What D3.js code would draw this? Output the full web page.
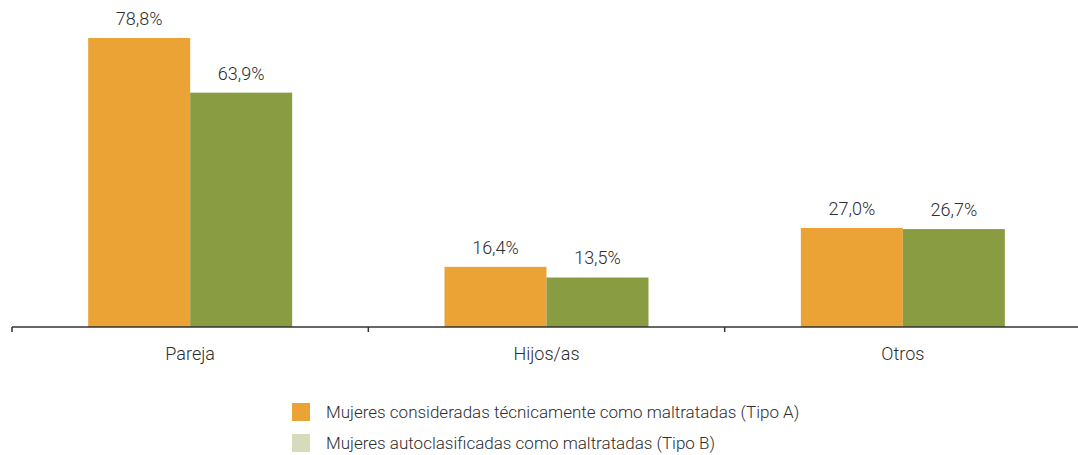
<!DOCTYPE html>
<html>
<head>
<meta charset="utf-8">
<script src="https://cdn.jsdelivr.net/npm/d3@7"></script>
<style>
  html, body { margin: 0; padding: 0; background: #fff; }
  svg { display: block; }
  text { font-family: Roboto, "Liberation Sans", sans-serif; font-weight: 300; fill: #2e2e2e; }
</style>
</head>
<body>
<svg id="chart" width="1078" height="455"></svg>
<script>
const categories = ["Pareja", "Hijos/as", "Otros"];
const seriesNames = [
  "Mujeres consideradas técnicamente como maltratadas (Tipo A)",
  "Mujeres autoclasificadas como maltratadas (Tipo B)"
];
const tipoA = [78.8, 16.4, 27.0];
const tipoB = [63.9, 13.5, 26.7];
const barColors = ["#eca336", "#8a9c41"];
const legendColors = ["#eca336", "#d5dbbb"];

const svg = d3.select("#chart");
const baseY = 327;
const x = d3.scaleBand().domain(categories).range([12, 1081]).paddingInner(0).paddingOuter(0);
const y = d3.scaleLinear().domain([0, 78.8]).range([baseY, 38]);
const barW = 102;
const fmt = v => v.toFixed(1).replace(".", ",") + "%";

const series = [tipoA, tipoB];
series.forEach((vals, si) => {
  const g = svg.append("g");
  g.selectAll("rect").data(categories).join("rect")
    .attr("x", c => x(c) + x.bandwidth() / 2 - barW + si * barW)
    .attr("y", (c, i) => y(vals[i]))
    .attr("width", barW)
    .attr("height", (c, i) => baseY - y(vals[i]))
    .attr("fill", barColors[si]);
  g.selectAll("text").data(categories).join("text")
    .attr("x", c => x(c) + x.bandwidth() / 2 - barW / 2 + si * barW)
    .attr("y", (c, i) => y(vals[i]) - 13)
    .attr("text-anchor", "middle")
    .attr("font-size", 18)
    .text((c, i) => fmt(vals[i]));
});

// axis
const axisG = svg.append("g").attr("transform", `translate(0,${baseY})`);
axisG.append("line").attr("x1", 12).attr("x2", 1078).attr("y1", 0).attr("y2", 0)
  .attr("stroke", "#333").attr("stroke-width", 1.5);
const tickPos = categories.map(c => x(c));
axisG.selectAll("line.tick").data(tickPos).join("line").attr("class", "tick")
  .attr("x1", d => d).attr("x2", d => d).attr("y1", 0).attr("y2", 5)
  .attr("stroke", "#333").attr("stroke-width", 1.5);
axisG.selectAll("text").data(categories).join("text")
  .attr("x", c => x(c) + x.bandwidth() / 2)
  .attr("y", 33)
  .attr("text-anchor", "middle")
  .attr("font-size", 18)
  .text(c => c);

// legend
const leg = svg.append("g");
seriesNames.forEach((n, i) => {
  leg.append("rect").attr("x", 292).attr("y", 403 + i * 31).attr("width", 18).attr("height", 18)
    .attr("fill", legendColors[i]);
  leg.append("text").attr("x", 326).attr("y", 418 + i * 31).attr("font-size", 17).text(n);
});
</script>
</body>
</html>
